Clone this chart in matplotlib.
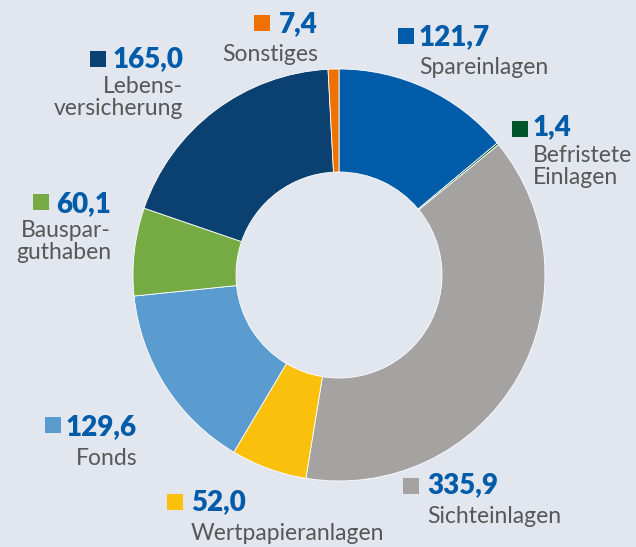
import matplotlib.pyplot as plt
from matplotlib.patches import Rectangle

# --- datos (Mrd. Euro) ---
categorias = ['Spareinlagen', 'Befristete\nEinlagen', 'Sichteinlagen', 'Wertpapieranlagen',
              'Fonds', 'Bauspar-\nguthaben', 'Lebens-\nversicherung', 'Sonstiges']
valores = [121.7, 1.4, 335.9, 52.0, 129.6, 60.1, 165.0, 7.4]
colores = ['#005ca9', '#00562a', '#a5a3a2', '#fbc00b', '#5a9bd0', '#76ab43', '#0b4170', '#ee7203']

# posicion de cada etiqueta: (x cuadro, y cuadro arriba, x texto, alineacion, y base valor, y base nombre)
posiciones = [
    (398, 28, 419, 'left', 45, 74),
    (512, 121, 533, 'left', 135, 162),
    (403, 478, 427, 'left', 493, 523),
    (167, 494, 191, 'left', 510, 540),
    (45, 417, 137, 'right', 435, 465),
    (33, 194, 111, 'right', 212, 237),
    (90, 51, 183, 'right', 67, 93),
    (254, 15, 318, 'right', 32, 61),
]

W, H = 636, 547
fondo = '#e2e6ef'
azul_txt = '#005ca9'
gris_txt = '#575757'

fig = plt.figure(figsize=(W / 100, H / 100), dpi=100, facecolor=fondo)
ax = fig.add_axes([0, 0, 1, 1])
ax.set_xlim(0, W)
ax.set_ylim(0, H)
ax.set_aspect('equal')
ax.axis('off')

ax.pie(valores, colors=colores, startangle=90, counterclock=False,
       radius=206, center=(339, H - 275),
       wedgeprops=dict(width=103, edgecolor='white', linewidth=0.6))
ax.set_xlim(0, W)
ax.set_ylim(0, H)

for cat, val, (xs, ys, xt, ha, yv, yn) in zip(categorias, valores, posiciones):
    idx = categorias.index(cat)
    ax.add_patch(Rectangle((xs, H - ys - 16), 16, 16, color=colores[idx], lw=0))
    ax.text(xt, H - yv, f'{val:.1f}'.replace('.', ','), ha=ha, va='baseline',
            fontsize=20, fontweight='heavy', color=azul_txt, family='Lato')
    lineas = cat.split('\n')
    for i, linea in enumerate(lineas):
        ax.text(xt, H - yn - i * 22, linea, ha=ha, va='baseline',
                fontsize=16.5, color=gris_txt, family='Lato')

fig.savefig('out.png', dpi=100, facecolor=fondo)
